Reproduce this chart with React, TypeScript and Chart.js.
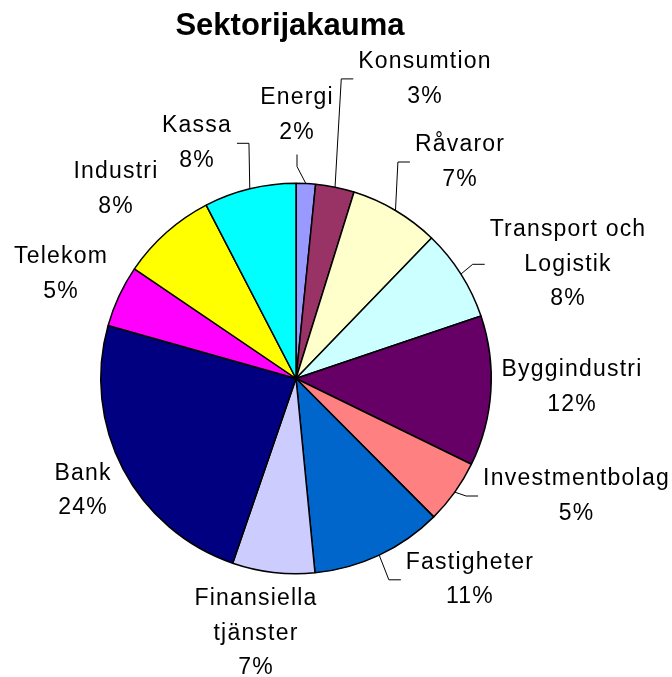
import { useEffect, useRef } from "react";
import { Chart, registerables } from "chart.js";

Chart.register(...registerables);

// ---- data ----
const chartTitle = "Sektorijakauma";
const categories = [
  "Energi",
  "Konsumtion",
  "Råvaror",
  "Transport och\nLogistik",
  "Byggindustri",
  "Investmentbolag",
  "Fastigheter",
  "Finansiella\ntjänster",
  "Bank",
  "Telekom",
  "Industri",
  "Kassa",
];
const shares = [1.6, 3.2, 7.4, 7.6, 12.4, 5.3, 10.9, 6.8, 24.1, 5.1, 7.9, 7.6];
const sliceColors = [
  "#9999FF",
  "#993366",
  "#FFFFCC",
  "#CCFFFF",
  "#660066",
  "#FF8080",
  "#0066CC",
  "#CCCCFF",
  "#000080",
  "#FF00FF",
  "#FFFF00",
  "#00FFFF",
];

// ---- layout (label placement relative to pie centre, leader-line side) ----
const labelOffsets: [number, number][] = [
  [1, -263.6],
  [129, -299.6],
  [164, -216.5],
  [272, -114.2],
  [276, 8.8],
  [280.5, 117.5],
  [174, 201.3],
  [-40, 255],
  [-213, 112.3],
  [-235, -104.2],
  [-180, -189.3],
  [-99, -235.2],
];
const leaderSides: (string | null)[] = [
  "bottom",
  "left",
  "left",
  "left",
  null,
  "left",
  "left",
  null,
  null,
  null,
  null,
  "right",
];

const FONT = '"Liberation Sans", Arial, Helvetica, sans-serif';
const LINE_H = 34.6;

const labelPlugin = {
  id: "sliceLabels",
  afterDatasetsDraw(chart: any) {
    const ctx: CanvasRenderingContext2D = chart.ctx;
    const meta = chart.getDatasetMeta(0);
    const total = shares.reduce((a, b) => a + b, 0);
    ctx.save();
    ctx.font = `23px ${FONT}`;
    (ctx as any).letterSpacing = "1.2px";
    ctx.fillStyle = "#000";
    ctx.strokeStyle = "#000";
    ctx.lineWidth = 1;
    ctx.textAlign = "center";
    ctx.textBaseline = "middle";
    let pcx = 0;
    meta.data.forEach((arc: any, i: number) => {
      const { x, y, startAngle, endAngle, outerRadius } = arc.getProps(
        ["x", "y", "startAngle", "endAngle", "outerRadius"],
        true
      );
      pcx = x;
      const lines = [
        ...categories[i].split("\n"),
        Math.round((shares[i] / total) * 100) + "%",
      ];
      const lx = x + labelOffsets[i][0];
      const ly = y + labelOffsets[i][1];
      const n = lines.length;
      const top = ly - ((n - 1) * LINE_H) / 2;
      lines.forEach((t, k) => ctx.fillText(t, lx, top + k * LINE_H));
      const side = leaderSides[i];
      if (side) {
        const mid = (startAngle + endAngle) / 2;
        const ex = x + outerRadius * Math.cos(mid);
        const ey = y + outerRadius * Math.sin(mid);
        const halfW = Math.max(...lines.map((t) => ctx.measureText(t).width)) / 2;
        const halfH = (n * LINE_H) / 2;
        let end: [number, number];
        let elbow: [number, number];
        if (side === "left") {
          end = [lx - halfW - 5, ly];
          elbow = [end[0] - 12, ly];
        } else if (side === "right") {
          end = [lx + halfW + 5, ly];
          elbow = [end[0] + 12, ly];
        } else {
          end = [lx, ly + halfH + 5];
          elbow = [lx, end[1] + 12];
        }
        ctx.beginPath();
        ctx.moveTo(ex, ey);
        ctx.lineTo(elbow[0], elbow[1]);
        ctx.lineTo(end[0], end[1]);
        ctx.stroke();
      }
    });
    (ctx as any).letterSpacing = "0px";
    ctx.font = `bold 31px ${FONT}`;
    ctx.textBaseline = "alphabetic";
    ctx.fillText(chartTitle, pcx - 6, 35);
    ctx.restore();
  },
};

export default function App() {
  const canvasRef = useRef<HTMLCanvasElement | null>(null);

  useEffect(() => {
    if (!canvasRef.current) return;
    const chart = new Chart(canvasRef.current, {
      type: "pie",
      data: {
        labels: categories.map((c) => c.replace("\n", " ")),
        datasets: [
          {
            data: shares,
            backgroundColor: sliceColors,
            borderColor: "#000000",
            borderWidth: 1.5,
          },
        ],
      },
      options: {
        responsive: false,
        animation: false,
        layout: {
          padding: { left: 100, top: 182.5, right: 180, bottom: 102.5 },
        },
        plugins: {
          legend: { display: false },
          tooltip: { enabled: false },
          title: { display: false },
        },
      },
      plugins: [labelPlugin],
    });
    return () => chart.destroy();
  }, []);

  return (
    <div
      style={{
        position: "absolute",
        left: 0,
        top: 0,
        width: 672,
        height: 677,
        background: "#ffffff",
      }}
    >
      <canvas
        ref={canvasRef}
        width={672}
        height={677}
        style={{ width: 672, height: 677, display: "block" }}
      />
    </div>
  );
}
